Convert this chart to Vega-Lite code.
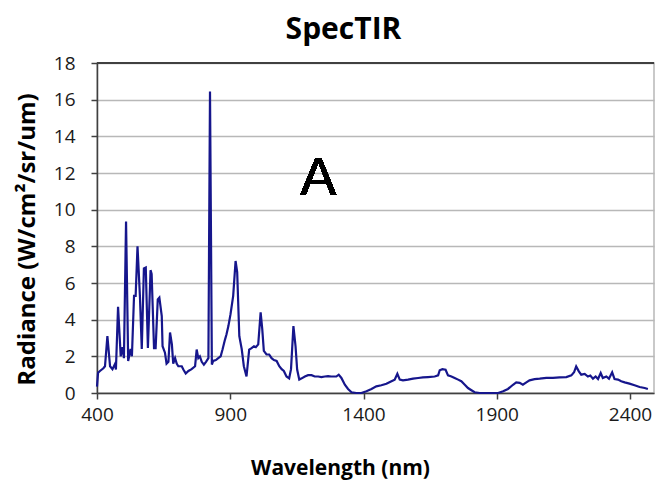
{
  "$schema": "https://vega.github.io/schema/vega-lite/v6.json",
  "width": 557,
  "height": 330,
  "autosize": {"type": "none"},
  "padding": {"left": 97, "top": 63, "right": 2, "bottom": 98},
  "background": "white",
  "config": {
    "view": {"stroke": "#b8b8b8", "strokeWidth": 1.5},
    "axisX": {"grid": false, "labelOverlap": false, "labelFlush": false,
      "titleFont": "Open Sans", "titleFontSize": 21, "titleFontWeight": "bold", "titleColor": "#000000",
      "titleX": 243, "titleY": 75, "titleBaseline": "middle",
      "labelFont": "Open Sans", "labelFontSize": 19, "labelColor": "#1a1a1a", "labelPadding": 6,
      "tickSize": 6, "tickColor": "#404040", "tickWidth": 1.5, "domainColor": "#404040", "domainWidth": 1.5},
    "axisY": {"grid": true, "gridColor": "#b8b8b8", "gridWidth": 1.5, "labelOverlap": false, "labelFlush": false,
      "titleFont": "Open Sans", "titleFontSize": 24, "titleFontWeight": "bold", "titleColor": "#000000",
      "titleX": -70, "titleY": 176, "titleAngle": -90, "titleBaseline": "middle", "titleAlign": "center",
      "labelFont": "Open Sans", "labelFontSize": 19, "labelColor": "#1a1a1a", "labelPadding": 16,
      "tickSize": 6, "tickColor": "#404040", "tickWidth": 1.5, "domainColor": "#404040", "domainWidth": 1.5}
  },
  "title": {"text": "SpecTIR", "font": "Open Sans", "fontSize": 30, "fontWeight": "bold", "color": "#000000", "anchor": "middle", "dx": -32, "offset": 9},
  "data": {"values": [
    {"wl": 400, "r": 0.35}, {"wl": 404, "r": 1.1}, {"wl": 411, "r": 1.2}, {"wl": 424, "r": 1.35}, {"wl": 430, "r": 1.46},
    {"wl": 439, "r": 3.1}, {"wl": 449, "r": 1.46}, {"wl": 458, "r": 1.3}, {"wl": 468, "r": 1.6}, {"wl": 471, "r": 1.28},
    {"wl": 479, "r": 4.7}, {"wl": 489, "r": 2.0}, {"wl": 496, "r": 2.5}, {"wl": 501, "r": 1.9}, {"wl": 509, "r": 9.35},
    {"wl": 517, "r": 1.75}, {"wl": 526, "r": 2.4}, {"wl": 531, "r": 2.0}, {"wl": 539, "r": 5.3}, {"wl": 545, "r": 5.3},
    {"wl": 552, "r": 8.0}, {"wl": 561, "r": 5.3}, {"wl": 568, "r": 2.4}, {"wl": 576, "r": 6.8}, {"wl": 583, "r": 6.85},
    {"wl": 591, "r": 2.45}, {"wl": 601, "r": 6.7}, {"wl": 605, "r": 6.5}, {"wl": 614, "r": 2.45}, {"wl": 620, "r": 2.45},
    {"wl": 628, "r": 5.1}, {"wl": 634, "r": 5.2}, {"wl": 643, "r": 4.2}, {"wl": 646, "r": 2.55}, {"wl": 655, "r": 2.2},
    {"wl": 661, "r": 1.6}, {"wl": 668, "r": 1.7}, {"wl": 674, "r": 3.3}, {"wl": 681, "r": 2.65}, {"wl": 686, "r": 1.6},
    {"wl": 693, "r": 1.9}, {"wl": 699, "r": 1.6}, {"wl": 705, "r": 1.46}, {"wl": 718, "r": 1.46}, {"wl": 724, "r": 1.28},
    {"wl": 733, "r": 1.06}, {"wl": 743, "r": 1.2}, {"wl": 755, "r": 1.3}, {"wl": 768, "r": 1.46}, {"wl": 774, "r": 2.37},
    {"wl": 780, "r": 1.9}, {"wl": 786, "r": 2.0}, {"wl": 793, "r": 1.7}, {"wl": 801, "r": 1.55}, {"wl": 809, "r": 1.7},
    {"wl": 818, "r": 1.9}, {"wl": 824, "r": 16.45}, {"wl": 831, "r": 1.55}, {"wl": 836, "r": 1.75}, {"wl": 846, "r": 1.8},
    {"wl": 855, "r": 1.9}, {"wl": 864, "r": 2.0}, {"wl": 871, "r": 2.37}, {"wl": 880, "r": 2.9}, {"wl": 886, "r": 3.2},
    {"wl": 893, "r": 3.65}, {"wl": 901, "r": 4.3}, {"wl": 911, "r": 5.3}, {"wl": 920, "r": 7.2}, {"wl": 926, "r": 6.6},
    {"wl": 934, "r": 3.1}, {"wl": 943, "r": 2.4}, {"wl": 951, "r": 1.46}, {"wl": 961, "r": 0.9}, {"wl": 971, "r": 2.37},
    {"wl": 980, "r": 2.45}, {"wl": 989, "r": 2.55}, {"wl": 996, "r": 2.5}, {"wl": 1005, "r": 2.65}, {"wl": 1014, "r": 4.4},
    {"wl": 1020, "r": 3.5}, {"wl": 1026, "r": 2.3}, {"wl": 1036, "r": 2.1}, {"wl": 1046, "r": 2.1}, {"wl": 1055, "r": 1.9},
    {"wl": 1064, "r": 1.8}, {"wl": 1074, "r": 1.75}, {"wl": 1084, "r": 1.46}, {"wl": 1093, "r": 1.3}, {"wl": 1101, "r": 1.2},
    {"wl": 1111, "r": 0.9}, {"wl": 1121, "r": 0.8}, {"wl": 1128, "r": 1.3}, {"wl": 1137, "r": 3.65}, {"wl": 1145, "r": 2.55},
    {"wl": 1151, "r": 1.28}, {"wl": 1159, "r": 0.73}, {"wl": 1168, "r": 0.8}, {"wl": 1180, "r": 0.9}, {"wl": 1192, "r": 0.97},
    {"wl": 1205, "r": 0.97}, {"wl": 1217, "r": 0.9}, {"wl": 1230, "r": 0.9}, {"wl": 1242, "r": 0.87}, {"wl": 1255, "r": 0.9},
    {"wl": 1267, "r": 0.92}, {"wl": 1279, "r": 0.9}, {"wl": 1298, "r": 0.9}, {"wl": 1307, "r": 1.0}, {"wl": 1317, "r": 0.82},
    {"wl": 1330, "r": 0.45}, {"wl": 1342, "r": 0.22}, {"wl": 1355, "r": 0.04}, {"wl": 1373, "r": 0.0}, {"wl": 1392, "r": 0.0},
    {"wl": 1411, "r": 0.1}, {"wl": 1430, "r": 0.22}, {"wl": 1448, "r": 0.36}, {"wl": 1467, "r": 0.42}, {"wl": 1486, "r": 0.5},
    {"wl": 1505, "r": 0.64}, {"wl": 1517, "r": 0.73}, {"wl": 1527, "r": 1.05}, {"wl": 1536, "r": 0.73}, {"wl": 1548, "r": 0.69},
    {"wl": 1567, "r": 0.73}, {"wl": 1586, "r": 0.78}, {"wl": 1605, "r": 0.82}, {"wl": 1623, "r": 0.85}, {"wl": 1642, "r": 0.87},
    {"wl": 1667, "r": 0.9}, {"wl": 1680, "r": 0.96}, {"wl": 1686, "r": 1.24}, {"wl": 1696, "r": 1.3}, {"wl": 1708, "r": 1.27},
    {"wl": 1717, "r": 0.96}, {"wl": 1730, "r": 0.9}, {"wl": 1742, "r": 0.82}, {"wl": 1755, "r": 0.73}, {"wl": 1767, "r": 0.64},
    {"wl": 1780, "r": 0.45}, {"wl": 1792, "r": 0.27}, {"wl": 1805, "r": 0.15}, {"wl": 1817, "r": 0.04}, {"wl": 1836, "r": 0.0},
    {"wl": 1861, "r": 0.0}, {"wl": 1886, "r": 0.0}, {"wl": 1905, "r": 0.0}, {"wl": 1924, "r": 0.09}, {"wl": 1942, "r": 0.22},
    {"wl": 1961, "r": 0.45}, {"wl": 1973, "r": 0.58}, {"wl": 1986, "r": 0.55}, {"wl": 1998, "r": 0.45}, {"wl": 2011, "r": 0.58},
    {"wl": 2023, "r": 0.69}, {"wl": 2042, "r": 0.76}, {"wl": 2061, "r": 0.78}, {"wl": 2086, "r": 0.82}, {"wl": 2111, "r": 0.82},
    {"wl": 2136, "r": 0.85}, {"wl": 2161, "r": 0.87}, {"wl": 2180, "r": 0.96}, {"wl": 2190, "r": 1.13}, {"wl": 2198, "r": 1.45},
    {"wl": 2208, "r": 1.18}, {"wl": 2217, "r": 1.0}, {"wl": 2230, "r": 1.04}, {"wl": 2242, "r": 0.9}, {"wl": 2251, "r": 0.95},
    {"wl": 2261, "r": 0.78}, {"wl": 2271, "r": 0.9}, {"wl": 2280, "r": 0.76}, {"wl": 2290, "r": 1.09}, {"wl": 2298, "r": 0.82},
    {"wl": 2311, "r": 0.9}, {"wl": 2321, "r": 0.78}, {"wl": 2333, "r": 1.13}, {"wl": 2342, "r": 0.76}, {"wl": 2355, "r": 0.73},
    {"wl": 2367, "r": 0.64}, {"wl": 2380, "r": 0.58}, {"wl": 2398, "r": 0.51}, {"wl": 2417, "r": 0.42}, {"wl": 2436, "r": 0.33},
    {"wl": 2455, "r": 0.27}, {"wl": 2467, "r": 0.22}
  ]},
  "layer": [
    {
      "mark": {"type": "line", "color": "#16168c", "strokeWidth": 2.2, "interpolate": "linear"},
      "encoding": {
        "x": {"field": "wl", "type": "quantitative",
          "scale": {"domain": [400, 2490], "nice": false, "zero": false},
          "axis": {"values": [400, 900, 1400, 1900, 2400], "format": "d", "grid": false, "title": "Wavelength (nm)"}},
        "y": {"field": "r", "type": "quantitative",
          "scale": {"domain": [0, 18], "nice": false},
          "axis": {"values": [0, 2, 4, 6, 8, 10, 12, 14, 16, 18], "format": "d", "grid": true, "gridColor": "#b8b8b8", "gridWidth": 1.5, "title": "Radiance (W/cm²/sr/um)"}}
      }
    },
    {
      "mark": {"type": "rule", "color": "#404040", "strokeWidth": 1.5},
      "encoding": {"y": {"datum": 18, "type": "quantitative",
        "axis": {"values": [0, 2, 4, 6, 8, 10, 12, 14, 16, 18], "format": "d", "grid": true, "gridColor": "#b8b8b8", "gridWidth": 1.5, "title": "Radiance (W/cm²/sr/um)"}}}
    },
    {
      "mark": {"type": "text", "font": "Liberation Sans", "fontSize": 54, "color": "#000000", "align": "center", "baseline": "middle"},
      "encoding": {
        "x": {"datum": 1230, "type": "quantitative",
          "axis": {"values": [400, 900, 1400, 1900, 2400], "format": "d", "grid": false, "title": "Wavelength (nm)"}},
        "y": {"datum": 11.7, "type": "quantitative",
          "axis": {"values": [0, 2, 4, 6, 8, 10, 12, 14, 16, 18], "format": "d", "grid": true, "gridColor": "#b8b8b8", "gridWidth": 1.5, "title": "Radiance (W/cm²/sr/um)"}},
        "text": {"value": "A"}}
    }
  ]
}
